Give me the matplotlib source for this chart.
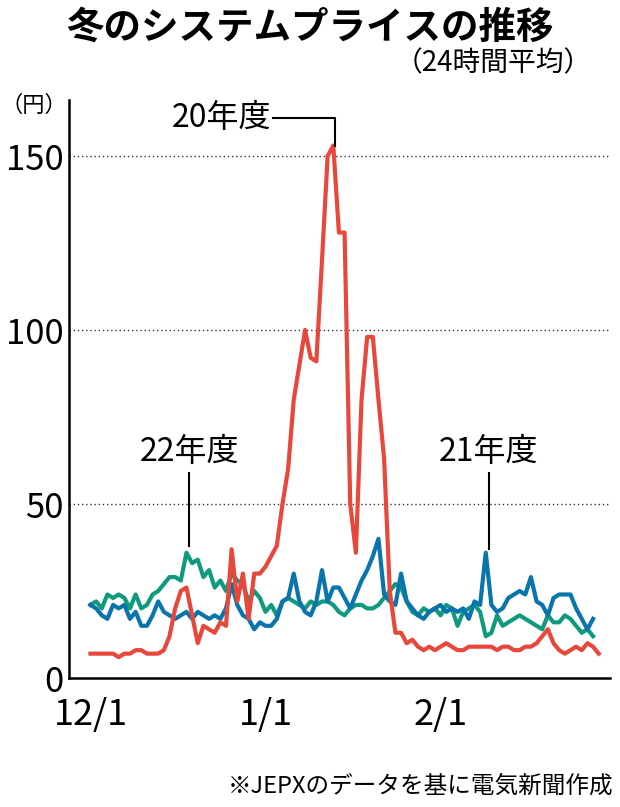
import matplotlib
matplotlib.use("Agg")
import matplotlib.pyplot as plt
import numpy as np

plt.rcParams['font.family'] = ['Noto Sans CJK JP', 'DejaVu Sans']

red_20 = [7,7,7,7,7,6,7,7,8,8,7,7,7,8,12,20,25,26,18,10,15,14,13,16,15,37,22,30,17,30,30,32,35,38,50,60,80,90,100,92,91,120,150,153,128,128,50,36,80,98,98,80,63,25,13,13,10,11,9,8,9,8,9,10,9,8,8,9,9,9,9,9,8,9,9,8,8,9,9,10,12,14,10,8,7,8,9,8,10,9,7]
green_22 = [21,22,20,24,23,24,23,20,24,20,21,24,25,27,29,29,28,36,33,34,29,31,26,28,25,30,28,27,22,25,23,19,21,18,22,23,22,21,20,22,21,22,22,21,19,18,20,21,21,20,20,21,23,25,27,26,22,19,18,20,19,20,18,21,20,15,19,20,21,19,12,13,18,15,16,17,18,17,16,15,14,18,16,16,18,17,15,13,14,12]
blue_21 = [21,20,18,17,21,20,21,17,19,15,15,18,22,19,18,17,18,19,17,19,18,17,18,17,20,27,21,18,17,14,16,15,15,17,22,23,30,22,19,18,22,31,22,26,26,23,20,24,28,31,35,40,24,22,21,30,22,20,18,17,19,20,21,19,20,19,20,17,22,21,36,21,19,20,23,24,25,24,29,22,21,18,23,24,24,24,20,17,14,17]
xtick_pos = [0, 31, 62]
xtick_labels = ['12/1', '1/1', '2/1']
yticks = [0, 50, 100, 150]

fig = plt.figure(figsize=(6.2, 8.07), dpi=100)
ax = fig.add_axes([69/620, 1-678/807, 541/620, 578/807])
ax.plot(np.arange(len(green_22)), green_22, color='#0f9a7e', lw=3)
ax.plot(np.arange(len(blue_21)), blue_21, color='#0a74ac', lw=3)
ax.plot(np.arange(len(red_20)), red_20, color='#e8473c', lw=3)
ax.set_xlim(-3.8, 92)
ax.set_ylim(0, 150*578/522)
for v in [50, 100, 150]:
    ax.axhline(v, color='#333', lw=1, ls=(0, (1, 2)), zorder=0)
for s in ['top', 'right']:
    ax.spines[s].set_visible(False)
for s in ['left', 'bottom']:
    ax.spines[s].set_linewidth(1.8)
ax.set_xticks(xtick_pos)
ax.set_xticklabels(xtick_labels, fontsize=26)
ax.set_yticks(yticks)
ax.set_yticklabels([str(v) for v in yticks], fontsize=25)
ax.tick_params(axis='y', length=0, pad=4)
ax.tick_params(axis='x', length=0, pad=14)

fig.text(0.5, 0.99, '冬のシステムプライスの推移', fontsize=27, fontweight='bold', ha='center', va='top')
fig.text(0.955, 0.922, '（24時間平均）', fontsize=20, ha='right', va='center')
fig.text(0.0, 0.87, '（円）', fontsize=16, ha='left', va='center')
fig.text(0.99, 0.012, '※JEPXのデータを基に電気新聞作成', fontsize=17, ha='right', va='bottom')

ax.text(32, 161, '20年度', fontsize=23, ha='right', va='center')
ax.plot([32.3, 43.3, 43.3], [161, 161, 153], color='black', lw=1.5)
ax.text(17.5, 65, '22年度', fontsize=23, ha='center', va='center')
ax.plot([17.5, 17.5], [59, 38], color='black', lw=1.5)
ax.text(70.5, 65, '21年度', fontsize=23, ha='center', va='center')
ax.plot([70.5, 70.5], [59, 37], color='black', lw=1.5)

fig.savefig('out.png', dpi=100)
